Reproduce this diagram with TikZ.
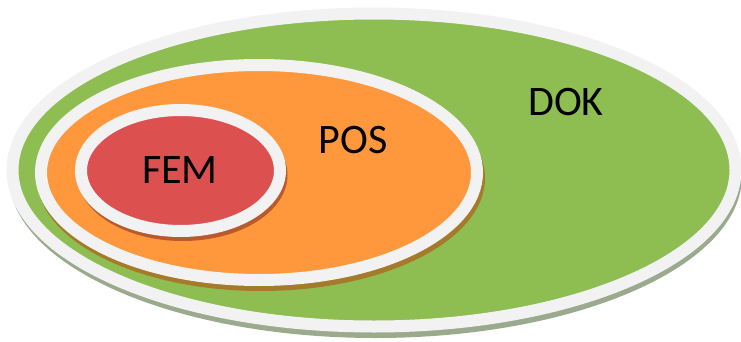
\documentclass[tikz,border=0pt]{standalone}
\usepackage{fontspec}
\setmainfont{Carlito}
\definecolor{rimwhite}{HTML}{F2F2F2}
\definecolor{dokgreen}{HTML}{8EBD51}
\definecolor{dokshadow}{HTML}{9BAA8C}
\definecolor{posorange}{HTML}{FF983C}
\definecolor{posshadow}{HTML}{A57A2A}
\definecolor{femred}{HTML}{DD5050}
\definecolor{femshadow}{HTML}{B85A2C}
\begin{document}
\begin{tikzpicture}[x=1pt,y=1pt,
  setring/.style={line width=12pt, draw=rimwhite},
  label/.style={font=\fontsize{42}{42}\selectfont, text=black, inner sep=0pt}]
\useasboundingbox (0,0) rectangle (741,341);
% DOK
\fill[dokshadow] (375.5,165) ellipse [x radius=366.5, y radius=162];
\draw[setring, fill=dokgreen] (374,171) ellipse [x radius=361.5, y radius=156.5];
% POS
\fill[posshadow] (261,163) ellipse [x radius=224, y radius=113];
\draw[setring, fill=posorange] (259,168.5) ellipse [x radius=218, y radius=107.5];
% FEM
\fill[femshadow] (182.5,166) ellipse [x radius=105, y radius=66];
\draw[setring, fill=femred] (180.5,170.5) ellipse [x radius=99.5, y radius=60.5];
% labels
\node[label] (dok) at (566,239) {DOK};
\node[label] (pos) at (353,201) {POS};
\node[label] (fem) at (180,171) {FEM};
\end{tikzpicture}
\end{document}
